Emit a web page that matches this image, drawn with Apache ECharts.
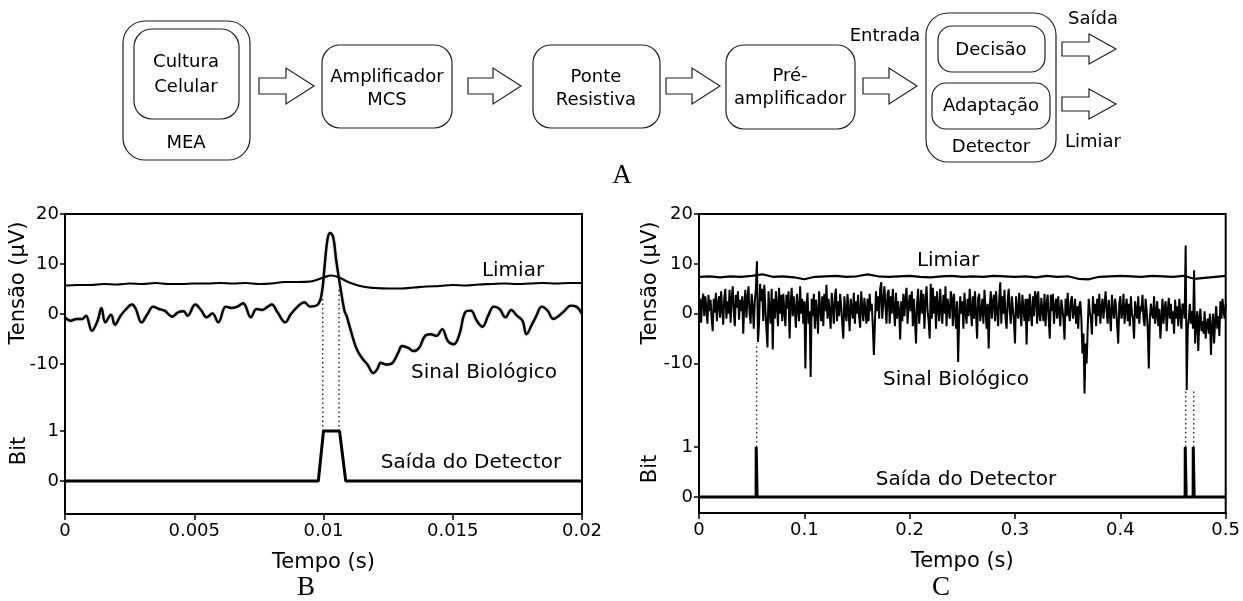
<!DOCTYPE html>
<html><head><meta charset="utf-8">
<script src="https://cdn.jsdelivr.net/npm/echarts@6/dist/echarts.min.js"></script>
<style>html,body{margin:0;padding:0;background:#fff}#c{width:1243px;height:601px}</style>
</head><body><div id="c"></div>
<script>
// ---------- Panel B data (time in s, voltage in µV) ----------
const bSignalTime = [0,0.00022,0.00044,0.00067,0.00081,0.00104,0.00126,0.00141,0.00156,0.00178,0.00193,0.00215,0.00237,0.00259,0.00274,0.00296,0.00319,0.00341,0.00363,0.00385,0.00415,0.00437,0.00459,0.00474,0.00504,0.00526,0.00548,0.0057,0.00593,0.00622,0.00644,0.00667,0.00689,0.00719,0.00741,0.00763,0.00785,0.008,0.00822,0.00852,0.00874,0.00904,0.00926,0.00948,0.00978,0.00993,0.01004,0.01015,0.01025,0.01037,0.01049,0.01064,0.01081,0.01089,0.01104,0.01126,0.01148,0.0117,0.01193,0.01207,0.01222,0.01244,0.01267,0.01289,0.01304,0.01326,0.01348,0.0137,0.01393,0.01415,0.01437,0.01459,0.01481,0.01504,0.01526,0.01548,0.0157,0.01593,0.01615,0.01637,0.01659,0.01681,0.01704,0.01726,0.01748,0.0177,0.01785,0.01807,0.01822,0.01844,0.01867,0.01889,0.01911,0.01933,0.01956,0.01978,0.02];
const bSignal = [-0.67,-1.35,-1.0,-1.0,-0.34,-3.37,-1.35,1.21,-1.68,-0.13,-2.15,-0.34,1.0,1.89,1.0,-1.68,0,1.48,1.0,0.67,-0.54,0.34,0.54,-0.34,1.89,0.81,-0.67,0.13,-1.68,1.48,1.21,1.48,2.15,-0.67,1.0,0.81,1.48,1.89,0.34,-1.68,0,1.68,2.36,1.48,1.89,4.04,9.43,14.8,16.2,15.5,10.8,5.72,0.67,-0.34,-3.03,-6.73,-8.75,-10.1,-11.8,-11.1,-9.76,-10.1,-9.76,-7.74,-6.4,-6.73,-7.41,-6.73,-4.38,-4.04,-4.38,-3.03,-5.39,-6.06,-4.04,0.34,0.67,-1.35,-2.56,-0.34,1.48,1.0,-0.67,0.81,-0.34,-1.35,-4.04,-2.02,-0.54,1.48,0.67,-1.0,-0.34,0.67,1.68,1.48,0];
const bLimiarTime = [0,0.0005,0.001,0.0015,0.002,0.0025,0.003,0.0035,0.004,0.0045,0.005,0.0055,0.006,0.0065,0.007,0.0075,0.008,0.0085,0.009,0.0095,0.01,0.0103,0.0106,0.011,0.0115,0.012,0.0125,0.013,0.0135,0.014,0.0145,0.015,0.0155,0.016,0.0165,0.017,0.0175,0.018,0.0185,0.019,0.0195,0.02];
const bLimiar = [5.7,5.8,5.8,6.0,5.9,6.1,6.0,6.2,6.0,6.0,6.1,6.1,6.2,6.1,6.2,6.0,6.1,6.4,6.4,6.5,7.3,7.7,7.3,6.3,5.5,5.2,5.1,5.1,5.3,5.5,5.6,5.8,5.7,5.9,6.0,6.1,6.0,6.1,6.2,6.1,6.2,6.2];
const bBitTime = [0,0.0098,0.0100,0.01062,0.01086,0.02];
const bBit = [0,0,1,1,0,0];
const bMarkTimes = [0.00997,0.0106];
const bMarkTops = [3.7,3.85];   // in bit units

// ---------- Panel C data ----------
const cDt = 0.001; // sampling step of the digitised signal
const cSignal = [
0.5,3.0,-1.8,2.5,4.0,-0.5,3.5,1.0,-2.0,3.8,0.5,2.8,-1.0,-3.5,3.0,0.2,4.2,-1.5,2.0,3.5,
-0.8,4.5,1.0,-2.2,3.2,5.0,-1.0,2.5,0.0,4.8,-1.8,3.0,5.5,0.5,-2.5,3.8,1.2,4.5,-1.2,2.8,
0.5,3.5,-4.0,2.0,4.8,-0.8,3.0,5.5,0.0,-2.0,4.0,1.5,-3.0,2.5,5.0,10.5,-5.7,-2.0,6.0,2.5,
5.0,-1.5,5.8,1.0,-3.0,-6.8,4.5,0.5,-2.0,5.0,-7.2,3.0,-1.0,4.5,1.5,-2.5,5.2,0.0,3.8,-1.5,
4.0,0.5,-2.5,3.8,1.0,4.5,-5.0,2.0,5.2,-0.5,3.5,0.8,-2.8,4.0,1.0,-1.5,5.5,0.0,3.0,-2.0,
2.5,-11.0,1.5,4.2,-2.0,0.5,-12.7,3.0,-0.5,4.0,-3.0,2.8,0.5,-4.0,4.5,1.0,-1.5,3.5,-2.5,4.0,
0.5,5.8,-1.0,3.0,0.0,-3.0,4.2,1.0,-2.0,3.5,5.0,-1.5,2.5,-0.5,4.0,1.5,-2.0,-5.0,3.5,0.5,
-1.5,4.0,0.5,-3.5,3.0,1.0,-1.0,4.2,-2.0,2.5,0.0,3.8,-0.5,-2.8,4.5,1.0,-1.5,3.2,0.5,-2.0,
3.0,-1.5,4.0,0.5,2.0,-2.5,-8.3,-2.0,4.5,0.5,3.5,-1.0,5.0,6.3,-1.0,2.5,5.5,1.5,-2.0,4.0,
4.8,-2.0,3.5,0.0,5.0,1.0,-2.5,4.2,-1.0,2.5,0.5,-5.2,2.5,-1.5,4.0,-0.5,3.0,5.2,-2.0,1.5,
3.8,0.5,4.5,-2.5,3.0,-1.0,-6.0,2.0,5.0,-2.0,1.0,4.8,0.0,4.0,-3.0,2.5,5.5,0.5,-1.5,-5.0,
6.0,-1.0,5.2,0.0,3.5,-3.0,4.5,1.0,-1.5,5.0,0.5,-2.0,3.8,0.0,5.5,-2.5,3.0,1.0,-1.0,4.5,
3.0,-2.5,4.0,0.5,-3.0,2.5,-9.7,-1.0,3.5,0.0,2.5,-3.0,4.2,0.5,-2.0,3.0,-0.5,5.0,1.0,-2.5,
3.5,-1.0,4.5,0.0,-5.0,3.0,4.0,-1.5,0.5,3.0,-2.0,4.8,1.0,-3.0,2.0,-7.0,1.5,4.5,-1.0,2.5,
3.8,-1.5,4.5,0.5,-2.5,3.0,6.3,-2.0,3.5,0.0,4.8,-1.0,-3.0,2.5,5.0,0.5,-2.0,3.5,1.0,-1.5,
-6.0,3.5,0.5,-1.0,4.2,0.5,-2.5,3.8,1.0,-1.5,3.0,-6.2,3.0,-1.5,4.0,0.0,-2.5,3.5,-0.5,4.5,
3.5,-2.0,4.5,0.0,-1.5,3.2,0.5,-1.5,4.0,-2.5,2.0,3.8,-1.0,-5.0,3.8,0.5,4.0,-2.0,1.5,3.0,
-1.0,3.5,0.5,-2.5,2.8,1.0,-1.0,-5.2,3.0,-0.5,4.2,0.0,-1.5,2.5,3.5,-1.0,0.5,3.0,-2.0,1.5,
-3.0,1.5,2.5,-1.0,-8.0,-4.0,-16.0,-6.0,-10.0,-3.0,3.0,0.5,-1.0,-4.2,3.5,0.0,2.0,-2.5,3.0,-0.5,
4.0,-2.0,1.0,3.0,-1.0,2.0,4.5,0.5,-2.0,2.8,0.0,-3.5,3.8,0.5,-1.0,3.0,1.0,-2.5,-6.0,2.0,
3.5,-1.0,0.0,4.0,-2.0,1.0,3.0,-1.5,2.0,-2.5,3.5,0.0,-1.0,-5.0,2.5,0.5,-1.0,3.5,-2.0,1.5,
0.5,3.8,-1.0,-2.5,3.0,0.5,-3.0,-11.0,-1.0,2.0,0.0,-1.0,3.5,-2.0,0.0,2.5,-2.5,1.0,-5.0,-1.0,
3.0,-2.0,1.0,2.5,-3.5,0.5,3.2,-1.0,2.0,-2.0,0.5,-4.0,2.8,-1.0,1.5,-2.5,3.0,0.0,-3.0,2.0,
1.5,-1.0,13.7,-15.3,-3.0,-1.0,2.0,-2.0,0.5,-3.0,8.7,-6.0,-2.0,0.5,-7.5,-1.0,1.0,-3.5,-1.5,-4.0,
0.5,-5.0,-2.0,-1.0,-4.0,0.0,-8.3,-2.5,0.0,-6.0,-1.5,1.5,-3.0,-0.5,-4.5,2.5,-1.0,3.0,0.5,-1.0,
2.0];
const cLimiarDt = 0.01;
const cLimiar = [7.4,7.5,7.3,7.5,7.4,7.6,7.9,7.4,7.5,7.3,6.9,7.4,7.5,7.6,7.4,7.5,7.9,7.5,7.4,7.5,7.6,7.4,7.3,7.5,7.6,7.4,7.5,7.4,7.6,7.5,7.4,7.5,7.3,7.6,7.4,7.5,7.0,6.9,7.4,7.5,7.6,7.5,7.4,7.6,7.5,7.4,7.6,7.0,7.2,7.4,7.6];
const cBitTime = [0,0.0542,0.0543,0.0551,0.0552,0.4615,0.4616,0.4624,0.4625,0.4691,0.4692,0.4700,0.4701,0.5];
const cBit = [0,0,1,1,0,0,1,1,0,0,1,1,0,0];
const cMarkTimes = [0.0547,0.4620,0.4696];
const cMarkTops = [3.08,2.14,2.14];

// ---------- tick labels ----------
const voltTicks = [-10,0,10,20];
const bitTicks = [0,1];

const zip = (xs, ys) => xs.map((x,i)=>[x, ys[i]]);
const FONT = 'DejaVu Sans';
const chart = echarts.init(document.getElementById('c'), null, {renderer:'canvas'});

function xAx(grid, max, interval){
  return {type:'value', gridIndex:grid, min:0, max:max, interval:interval,
    name:'Tempo (s)', nameLocation:'middle', nameGap:38,
    nameTextStyle:{fontSize:21, color:'#000', fontFamily:FONT},
    axisLine:{show:true, onZero:false, lineStyle:{color:'#000', width:2}},
    axisTick:{show:true, inside:false, length:6, lineStyle:{color:'#000', width:1.5}},
    axisLabel:{fontSize:18, color:'#000', fontFamily:FONT, margin:8},
    splitLine:{show:false}};
}
function yAx(grid, min, max, ticks, showLine){
  return {type:'value', gridIndex:grid, min:min, max:max, position:'left',
    axisLine:{show:showLine, onZero:false, lineStyle:{color:'#000', width:2}},
    axisTick:{show:true, inside:false, length:5, customValues:ticks, lineStyle:{color:'#000', width:1.5}},
    axisLabel:{fontSize:18, color:'#000', fontFamily:FONT, margin:6, customValues:ticks},
    splitLine:{show:false}};
}
function lineS(xi, yi, data, width, extra){
  return Object.assign({type:'line', xAxisIndex:xi, yAxisIndex:yi, data:data, symbol:'none',
    animation:false, silent:true, lineStyle:{color:'#000', width:width}}, extra||{});
}
const series = [];
series.push(lineS(0,0, zip(bLimiarTime,bLimiar), 2.2, {smooth:0.4}));
series.push(lineS(0,0, zip(bSignalTime,bSignal), 2.4, {smooth:0.4, lineStyle:{color:'#000', width:2.4, shadowColor:'rgba(0,0,0,0.35)', shadowBlur:2}}));
bMarkTimes.forEach((t,i)=>series.push(lineS(0,1, [[t,1],[t,bMarkTops[i]]], 1.5, {lineStyle:{color:'#333', width:1.5, type:[1.5,3]}})));
series.push(lineS(0,1, zip(bBitTime,bBit), 3));
series.push(lineS(1,2, cLimiar.map((v,i)=>[i*cLimiarDt, v]), 2.2));
series.push(lineS(1,2, cSignal.map((v,i)=>[i*cDt, v]), 2));
cMarkTimes.forEach((t,i)=>series.push(lineS(1,3, [[t,1],[t,cMarkTops[i]]], 1.5, {lineStyle:{color:'#333', width:1.5, type:[1.5,3]}})));
series.push(lineS(1,3, zip(cBitTime,cBit), 3));

// ---------- block diagram ----------
const boxStyle = {fill:'#fff', stroke:'#222', lineWidth:1.2};
function box(x,y,w,h,r){ return {type:'rect', shape:{x:x,y:y,width:w,height:h,r:r}, style:boxStyle, silent:true}; }
function txt(s,x,y,size,fam,rot){
  const o = {type:'text', x:x, y:y, silent:true, style:{text:s, fill:'#000', fontSize:size, fontFamily:(fam||FONT), textAlign:'center', textVerticalAlign:'middle'}};
  if(rot){ o.rotation = rot; }
  return o;
}
function arrow(x0,x1,cy,sh,hh,hl){
  return {type:'polygon', silent:true, shape:{points:[[x0,cy-sh],[x1-hl,cy-sh],[x1-hl,cy-hh],[x1,cy],[x1-hl,cy+hh],[x1-hl,cy+sh],[x0,cy+sh]]}, style:boxStyle};
}
const DF = 'DejaVu Sans';
const DS = 18;
const AS = 20;
const graphic = [
  box(123,21,127,139,22), box(134,29,105,90,18),
  txt('Cultura',186,62,DS,DF), txt('Celular',186,87,DS,DF), txt('MEA',186,143,DS,DF),
  arrow(259,314,86,8,18,28),
  box(322,45,130,83,18), txt('Amplificador',387,77,DS,DF), txt('MCS',387,100,DS,DF),
  arrow(468,521,86,8,18,28),
  box(533,45,127,83,18), txt('Ponte',596,77,DS,DF), txt('Resistiva',596,100,DS,DF),
  arrow(666,720,86,8,18,28),
  box(726,45,129,84,18), txt('Pré-',790,76,DS,DF), txt('amplificador',790,99,DS,DF),
  txt('Entrada',885,36,DS,DF),
  arrow(863,917,86,8,18,28),
  box(926,13,130,149,22), box(938,26,107,46,14), box(932,83,118,46,14),
  txt('Decisão',991,50,DS,DF), txt('Adaptação',991,106,DS,DF), txt('Detector',991,147,DS,DF),
  arrow(1062,1116,49,7,15,27), arrow(1062,1116,104,7,15,27),
  txt('Saída',1093,19,DS,DF), txt('Limiar',1093,142,DS,DF),
  txt('A',622,176,27,'Liberation Serif'),
  // panel annotations
  txt('Limiar',513,271,AS), txt('Sinal Biológico',484,373,AS), txt('Saída do Detector',471,463,AS),
  txt('Limiar',948,261,AS), txt('Sinal Biológico',956,380,AS), txt('Saída do Detector',966,480,AS),
  // axis titles
  txt('Tensão (µV)',19,283,21,FONT,Math.PI/2), txt('Bit',20,451,21,FONT,Math.PI/2),
  txt('Tensão (µV)',651,283,21,FONT,Math.PI/2), txt('Bit',651,469,21,FONT,Math.PI/2),
  txt('B',306,588,27,'Liberation Serif'), txt('C',941,588,27,'Liberation Serif')
];

chart.setOption({
  animation:false,
  backgroundColor:'#fff',
  textStyle:{fontFamily:FONT},
  grid:[
    {left:65, top:214, width:517, height:300, show:true, borderColor:'#000', borderWidth:2, containLabel:false},
    {left:699, top:214, width:527, height:299, show:true, borderColor:'#000', borderWidth:2, containLabel:false}
  ],
  xAxis:[xAx(0,0.02,0.005), xAx(1,0.5,0.1)],
  yAxis:[yAx(0,-40,20,voltTicks,true), yAx(0,-0.66,5.34,bitTicks,false),
         yAx(1,-40,20,voltTicks,true), yAx(1,-0.32,5.66,bitTicks,false)],
  series:series,
  graphic:graphic
});
</script></body></html>
